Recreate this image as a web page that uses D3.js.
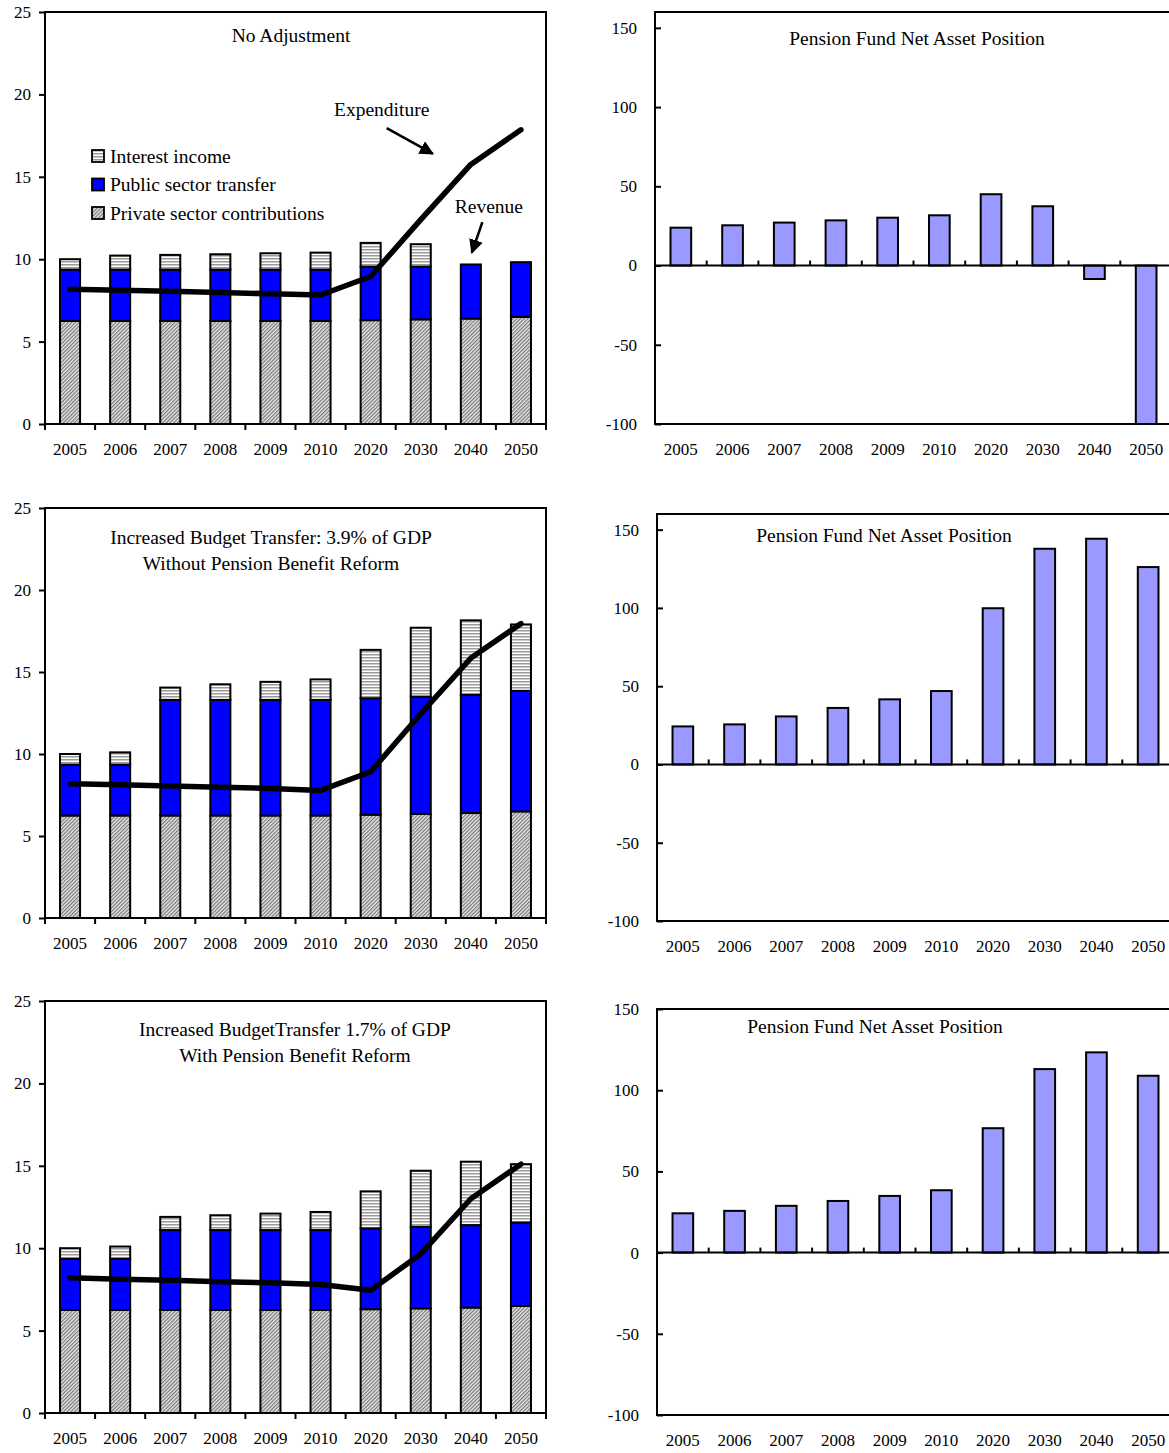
<!DOCTYPE html>
<html>
<head>
<meta charset="utf-8">
<script src="https://cdn.jsdelivr.net/npm/d3@7"></script>
<style>
  body { margin: 0; background: #fff; }
  text { font-family: "Liberation Serif", "Times New Roman", serif; fill: #000; }
</style>
</head>
<body>
<svg id="chart" width="1169" height="1453"></svg>
<script>
// ---- data ----
const years = ["2005", "2006", "2007", "2008", "2009", "2010", "2020", "2030", "2040", "2050"];
const leftTicks = [0, 5, 10, 15, 20, 25];
const rightTicks = [-100, -50, 0, 50, 100, 150];

// Scenario 1: no adjustment
const privateNoAdj  = [6.25, 6.25, 6.25, 6.25, 6.25, 6.25, 6.3, 6.35, 6.4, 6.5];
const publicNoAdj   = [3.12, 3.12, 3.12, 3.12, 3.12, 3.12, 3.25, 3.2, 3.28, 3.32];
const interestNoAdj = [0.63, 0.85, 0.89, 0.93, 0.99, 1.03, 1.44, 1.36, 0, 0];
const expendNoAdj   = [8.18, 8.12, 8.05, 7.98, 7.9, 7.83, 8.95, 12.4, 15.75, 17.85];
const assetsNoAdj   = [23.9, 25.4, 27.1, 28.5, 30.2, 31.7, 45.0, 37.4, -8.5, -100];

// Scenario 2: budget transfer 3.9% of GDP, no benefit reform
const privateHigh  = [6.25, 6.25, 6.25, 6.25, 6.25, 6.25, 6.3, 6.35, 6.4, 6.5];
const publicHigh   = [3.1, 3.1, 7.05, 7.05, 7.05, 7.05, 7.1, 7.15, 7.2, 7.35];
const interestHigh = [0.65, 0.75, 0.75, 0.95, 1.1, 1.25, 2.95, 4.2, 4.55, 4.05];
const expendHigh   = [8.18, 8.12, 8.05, 7.98, 7.9, 7.78, 8.92, 12.45, 15.85, 17.95];
const assetsHigh   = [24.3, 25.6, 30.7, 36.1, 41.6, 46.9, 99.8, 137.8, 144.2, 126.1];

// Scenario 3: budget transfer 1.7% of GDP, with benefit reform
const privateLow  = [6.25, 6.25, 6.25, 6.25, 6.25, 6.25, 6.3, 6.35, 6.4, 6.5];
const publicLow   = [3.1, 3.1, 4.85, 4.85, 4.85, 4.85, 4.9, 4.95, 5.0, 5.05];
const interestLow = [0.65, 0.75, 0.8, 0.9, 1.0, 1.1, 2.25, 3.4, 3.85, 3.55];
const expendLow   = [8.2, 8.12, 8.05, 7.97, 7.9, 7.8, 7.45, 9.65, 13.0, 15.1];
const assetsLow   = [24.2, 25.7, 28.8, 31.8, 34.9, 38.4, 76.6, 113.0, 123.3, 108.9];

const legendLabels = ["Interest income", "Public sector transfer", "Private sector contributions"];

// ---- drawing ----
const svg = d3.select("#chart");
const defs = svg.append("defs");

// fine diagonal hatch for private contributions
const diag = defs.append("pattern").attr("id", "diag")
  .attr("patternUnits", "userSpaceOnUse").attr("width", 2.6).attr("height", 2.6)
  .attr("patternTransform", "rotate(45)");
diag.append("rect").attr("width", 2.6).attr("height", 2.6).attr("fill", "#e6e6e6");
diag.append("line").attr("x1", 0.6).attr("y1", 0).attr("x2", 0.6).attr("y2", 2.6)
  .attr("stroke", "#6e6e6e").attr("stroke-width", 1.1);

// horizontal stripes for interest income
const horiz = defs.append("pattern").attr("id", "horiz")
  .attr("patternUnits", "userSpaceOnUse").attr("width", 4).attr("height", 3);
horiz.append("rect").attr("width", 4).attr("height", 3).attr("fill", "#ffffff");
horiz.append("rect").attr("y", 0).attr("width", 4).attr("height", 1.5).attr("fill", "#9a9a9a");

defs.append("marker").attr("id", "arrowhead")
  .attr("viewBox", "0 0 10 10").attr("refX", 9).attr("refY", 5)
  .attr("markerWidth", 5.5).attr("markerHeight", 5.5).attr("orient", "auto")
  .attr("markerUnits", "strokeWidth")
  .append("path").attr("d", "M0,0 L10,5 L0,10 Z").attr("fill", "#000");

const FILL_PUBLIC = "#0000ff";
const FILL_ASSET = "#9999ff";
const plain = d => String(d);

function drawLeft(cfg) {
  const g = svg.append("g");
  const x = d3.scaleBand().domain(years).range([cfg.x0, cfg.x1]).padding(0);
  const y = d3.scaleLinear().domain([0, 25]).range([cfg.bottom, cfg.top]);
  const bw = x.bandwidth() * 0.4;

  // y axis ticks and labels
  const ya = g.append("g").attr("transform", `translate(${cfg.x0},0)`)
    .call(d3.axisLeft(y).tickValues(leftTicks).tickSize(6).tickPadding(8).tickFormat(plain));
  ya.select(".domain").remove();
  ya.selectAll("line").attr("stroke", "#000").attr("stroke-width", 2);
  ya.selectAll("text").attr("font-size", 17).attr("font-family", null);

  // category labels
  const xa = g.append("g").attr("transform", `translate(0,${cfg.bottom})`)
    .call(d3.axisBottom(x).tickSize(0).tickPadding(19));
  xa.select(".domain").remove();
  xa.selectAll("text").attr("font-size", 17).attr("font-family", null);

  // boundary ticks on the category axis
  const bounds = d3.range(years.length + 1).map(i => cfg.x0 + i * x.step());
  g.append("g").selectAll("line").data(bounds).join("line")
    .attr("x1", d => d).attr("x2", d => d)
    .attr("y1", cfg.bottom).attr("y2", cfg.bottom + 6)
    .attr("stroke", "#000").attr("stroke-width", 2);

  // stacked bars
  const rows = years.map((yr, i) => {
    const p = cfg.priv[i], q = cfg.pub[i], r = cfg.intr[i];
    return { yr, segs: [
      { lo: 0, hi: p, fill: "url(#diag)" },
      { lo: p, hi: p + q, fill: FILL_PUBLIC },
      { lo: p + q, hi: p + q + r, fill: "url(#horiz)" }
    ].filter(s => s.hi - s.lo > 0) };
  });
  const bars = g.append("g").selectAll("g").data(rows).join("g");
  bars.selectAll("rect").data(d => d.segs.map(s => ({ ...s, yr: d.yr }))).join("rect")
    .attr("x", d => x(d.yr) + (x.bandwidth() - bw) / 2)
    .attr("width", bw)
    .attr("y", d => y(d.hi))
    .attr("height", d => y(d.lo) - y(d.hi))
    .attr("fill", d => d.fill)
    .attr("stroke", "#000").attr("stroke-width", 2);

  // expenditure line
  const line = d3.line().x((d, i) => x(years[i]) + x.bandwidth() / 2).y(d => y(d));
  g.append("path").datum(cfg.exp).attr("d", line)
    .attr("fill", "none").attr("stroke", "#000").attr("stroke-width", 5.5)
    .attr("stroke-linejoin", "round").attr("stroke-linecap", "round");

  // frame
  g.append("rect").attr("x", cfg.x0).attr("y", cfg.top)
    .attr("width", cfg.x1 - cfg.x0).attr("height", cfg.bottom - cfg.top)
    .attr("fill", "none").attr("stroke", "#000").attr("stroke-width", 2);

  // title
  cfg.title.forEach((t, k) => {
    g.append("text").attr("x", cfg.titleX).attr("y", cfg.titleY + k * 26)
      .attr("dy", "0.35em").attr("text-anchor", "middle").attr("font-size", 19.5).text(t);
  });

  return { g, x, y };
}

function drawRight(cfg) {
  const g = svg.append("g");
  const x = d3.scaleBand().domain(years).range([cfg.x0, cfg.x1]).padding(0);
  const y = d3.scaleLinear().domain(cfg.domain).range([cfg.bottom, cfg.top]).clamp(true);
  const bw = x.bandwidth() * 0.4;

  const ya = g.append("g").attr("transform", `translate(${cfg.x0},0)`)
    .call(d3.axisLeft(y).tickValues(rightTicks).tickSize(-6).tickPadding(18).tickFormat(plain));
  ya.select(".domain").remove();
  ya.selectAll("line").attr("stroke", "#000").attr("stroke-width", 2);
  ya.selectAll("text").attr("font-size", 17).attr("font-family", null);

  const xa = g.append("g").attr("transform", `translate(0,${cfg.bottom})`)
    .call(d3.axisBottom(x).tickSize(0).tickPadding(19));
  xa.select(".domain").remove();
  xa.selectAll("text").attr("font-size", 17).attr("font-family", null);

  g.append("g").selectAll("rect").data(years.map((yr, i) => ({ yr, v: cfg.vals[i] }))).join("rect")
    .attr("x", d => x(d.yr) + (x.bandwidth() - bw) / 2)
    .attr("width", bw)
    .attr("y", d => y(Math.max(0, d.v)))
    .attr("height", d => Math.abs(y(d.v) - y(0)))
    .attr("fill", FILL_ASSET)
    .attr("stroke", "#000").attr("stroke-width", 2);

  // zero line with boundary ticks
  g.append("line").attr("x1", cfg.x0).attr("x2", cfg.x1).attr("y1", y(0)).attr("y2", y(0))
    .attr("stroke", "#000").attr("stroke-width", 2);
  const bounds = d3.range(1, years.length + 1).map(i => cfg.x0 + i * x.step());
  g.append("g").selectAll("line").data(bounds).join("line")
    .attr("x1", d => d).attr("x2", d => d)
    .attr("y1", y(0)).attr("y2", y(0) - 5)
    .attr("stroke", "#000").attr("stroke-width", 2);

  g.append("rect").attr("x", cfg.x0).attr("y", cfg.top)
    .attr("width", cfg.x1 - cfg.x0).attr("height", cfg.bottom - cfg.top)
    .attr("fill", "none").attr("stroke", "#000").attr("stroke-width", 2);

  g.append("text").attr("x", cfg.titleX).attr("y", cfg.titleY)
    .attr("dy", "0.35em").attr("text-anchor", "middle").attr("font-size", 19.5)
    .text("Pension Fund Net Asset Position");
}

// left column: revenue composition vs expenditure
const p1 = drawLeft({ x0: 45, x1: 546, top: 12, bottom: 424,
  priv: privateNoAdj, pub: publicNoAdj, intr: interestNoAdj, exp: expendNoAdj,
  title: ["No Adjustment"], titleX: 291, titleY: 35 });
drawLeft({ x0: 45, x1: 546, top: 508, bottom: 918,
  priv: privateHigh, pub: publicHigh, intr: interestHigh, exp: expendHigh,
  title: ["Increased Budget Transfer: 3.9% of GDP", "Without Pension Benefit Reform"], titleX: 271, titleY: 537 });
drawLeft({ x0: 45, x1: 546, top: 1001, bottom: 1413,
  priv: privateLow, pub: publicLow, intr: interestLow, exp: expendLow,
  title: ["Increased BudgetTransfer 1.7% of GDP", "With Pension Benefit Reform"], titleX: 295, titleY: 1029 });

// right column: fund asset position
drawRight({ x0: 655, x1: 1172, top: 12, bottom: 424, domain: [-100, 160],
  vals: assetsNoAdj, titleX: 917, titleY: 38 });
drawRight({ x0: 657, x1: 1174, top: 514, bottom: 921, domain: [-100, 160],
  vals: assetsHigh, titleX: 884, titleY: 535 });
drawRight({ x0: 657, x1: 1174, top: 1009, bottom: 1415, domain: [-100, 150],
  vals: assetsLow, titleX: 875, titleY: 1026 });

// legend inside the first panel
const fills = ["url(#horiz)", FILL_PUBLIC, "url(#diag)"];
const leg = p1.g.append("g").attr("transform", "translate(92,150)");
legendLabels.forEach((t, i) => {
  leg.append("rect").attr("x", 0).attr("y", i * 28.5).attr("width", 12).attr("height", 12)
    .attr("fill", fills[i]).attr("stroke", "#000").attr("stroke-width", 1.8);
  leg.append("text").attr("x", 18).attr("y", i * 28.5 + 6).attr("dy", "0.35em")
    .attr("font-size", 19.5).text(t);
});

// annotations, positioned in data space (band index, value)
const px = f => 45 + f * p1.x.step();
const py = p1.y;
const ann = p1.g.append("g");
ann.append("text").attr("x", px(6.72)).attr("y", py(19.1)).attr("dy", "0.35em")
  .attr("text-anchor", "middle").attr("font-size", 19.5).text("Expenditure");
ann.append("line").attr("x1", px(6.82)).attr("y1", py(17.95)).attr("x2", px(7.74)).attr("y2", py(16.4))
  .attr("stroke", "#000").attr("stroke-width", 2.6).attr("marker-end", "url(#arrowhead)");
ann.append("text").attr("x", px(8.86)).attr("y", py(13.2)).attr("dy", "0.35em")
  .attr("text-anchor", "middle").attr("font-size", 19.5).text("Revenue");
ann.append("line").attr("x1", px(8.73)).attr("y1", py(12.25)).attr("x2", px(8.52)).attr("y2", py(10.4))
  .attr("stroke", "#000").attr("stroke-width", 2.6).attr("marker-end", "url(#arrowhead)");
</script>
</body>
</html>
